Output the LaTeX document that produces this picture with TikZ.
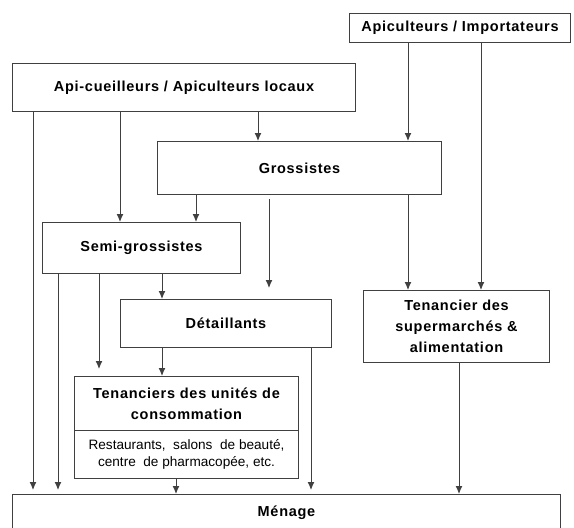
\documentclass[tikz,border=0pt]{standalone}
\usepackage{fontspec}
\setmainfont{Liberation Sans}
\newfontfamily\titlef{Liberation Sans}[LetterSpace=5]
\usetikzlibrary{arrows.meta}
\definecolor{linec}{HTML}{404040}
\tikzset{
  box/.style={draw=linec, line width=1pt, inner sep=0pt, anchor=north west, align=center,
    font={\titlef\bfseries\fontsize{14.5}{21}\selectfont}},
  bodytext/.style={font={\fontsize{13.6}{17}\selectfont}},
  arr/.style={draw=linec, line width=1pt, -{Latex[length=8pt,width=7pt]}},
}
\begin{document}
\begin{tikzpicture}[x=1pt,y=-1pt]
\fill[white] (0,0) rectangle (574,528);
\useasboundingbox (0,0) rectangle (574,528);
\begin{scope}
\clip (0,0) rectangle (574,528);
% column coordinates
\coordinate (k33) at (33,0);
\coordinate (k58) at (58,0);
\coordinate (k99) at (99,0);
\coordinate (k120) at (120,0);
\coordinate (k162) at (162,0);
\coordinate (k176) at (176,0);
\coordinate (k196) at (196,0);
\coordinate (k258) at (258,0);
\coordinate (k269) at (269,0);
\coordinate (k311) at (311,0);
\coordinate (k408) at (408,0);
\coordinate (k459) at (459,0);
\coordinate (k481) at (481,0);
% boxes
\node[box, minimum width=221pt, minimum height=29pt] (apic) at (349,13) {Apiculteurs / Importateurs};
\node[box, minimum width=343pt, minimum height=48pt] (apil) at (12,63) {Api-cueilleurs / Apiculteurs locaux};
\node[box, minimum width=284pt, minimum height=53pt] (gross) at (157,141) {Grossistes};
\node[box, minimum width=198pt, minimum height=51pt] (semi) at (42,222) {Semi-grossistes};
\node[box, minimum width=211pt, minimum height=48pt] (det) at (120,299) {Détaillants};
\node[box, minimum width=186pt, minimum height=72pt] (super) at (363,290) {Tenancier des\\supermarchés \&\\alimentation};
\node[box, minimum width=224pt, minimum height=54pt] (tenut) at (74,376) {Tenanciers des unités de\\consommation};
\node[box, bodytext, minimum width=224pt, minimum height=48pt] (tenub) at (74,430) {Restaurants,\ \ salons\ \ de beauté,\\centre\ \ de pharmacopée, etc.};
\node[box, minimum width=548pt, minimum height=36pt] (menage) at (12,494) {Ménage};
% connectors
\draw[arr, shorten >=4pt] (apil.south -| k33) -- (menage.north -| k33);
\draw[arr] (apil.south -| k120) -- (semi.north -| k120);
\draw[arr] (apil.south -| k258) -- (gross.north -| k258);
\draw[arr] (apic.south -| k408) -- (gross.north -| k408);
\draw[arr] (apic.south -| k481) -- (super.north -| k481);
\draw[arr] (gross.south -| k196) -- (semi.north -| k196);
\draw[arr, shorten <=4pt, shorten >=11pt] (gross.south -| k269) -- (det.north -| k269);
\draw[arr] (gross.south -| k408) -- (super.north -| k408);
\draw[arr, shorten >=4pt] (semi.south -| k58) -- (menage.north -| k58);
\draw[arr, shorten >=7pt] (semi.south -| k99) -- (tenut.north -| k99);
\draw[arr] (semi.south -| k162) -- (det.north -| k162);
\draw[arr] (det.south -| k162) -- (tenut.north -| k162);
\draw[arr, shorten >=4pt] (det.south -| k311) -- (menage.north -| k311);
\draw[arr] (super.south -| k459) -- (menage.north -| k459);
\draw[arr] (tenub.south -| k176) -- (menage.north -| k176);
\end{scope}
\end{tikzpicture}
\end{document}
